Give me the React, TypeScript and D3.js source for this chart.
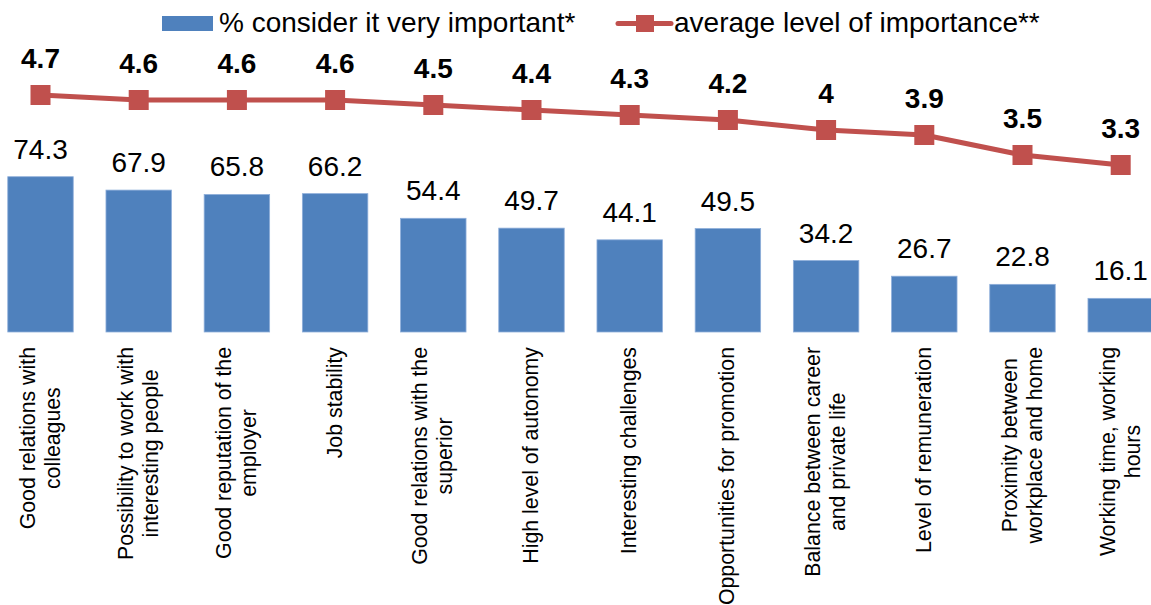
import React, { useMemo } from "react";
import * as d3 from "d3";

const categories: string[] = [
  "Good relations with\ncolleagues",
  "Possibility to work with\ninteresting people",
  "Good reputation of the\nemployer",
  "Job stability",
  "Good relations with the\nsuperior",
  "High level of autonomy",
  "Interesting challenges",
  "Opportunities for promotion",
  "Balance between career\nand private life",
  "Level of remuneration",
  "Proximity between\nworkplace and home",
  "Working time, working\nhours",
];
const pctVeryImportant: number[] = [74.3, 67.9, 65.8, 66.2, 54.4, 49.7, 44.1, 49.5, 34.2, 26.7, 22.8, 16.1];
const avgImportance: number[] = [4.7, 4.6, 4.6, 4.6, 4.5, 4.4, 4.3, 4.2, 4, 3.9, 3.5, 3.3];
const seriesNames: string[] = ["% consider it very important*", "average level of importance**"];

const W = 1151;
const H = 605;
const FONT = "'Liberation Sans', Arial, sans-serif";
const BAR = "#4F81BD";
const RED = "#C0504D";
const CAT_FS = 21.3;
const CAT_LH = 25;

export default function App() {
  const idx = categories.map((_, i) => String(i));
  const x = d3.scaleBand<string>().domain(idx).range([-8.6, 1169.8]).paddingInner(1 / 3).paddingOuter(1 / 6);
  const yBar = d3.scaleLinear().domain([0, 150]).range([332, 332 - 150 * 2.09]);
  const yLine = d3.scaleLinear().domain([0, 6]).range([330, 30]);
  const cx = (i: number) => (x(String(i)) as number) + x.bandwidth() / 2;

  const measure = useMemo(() => {
    const c = document.createElement("canvas").getContext("2d")!;
    c.font = `${CAT_FS}px 'Liberation Sans'`;
    return (s: string) => c.measureText(s).width;
  }, []);

  const line = d3
    .line<number>()
    .x((_, i) => cx(i))
    .y((d) => yLine(d));

  const ms = 20;

  return (
    <svg width={W} height={H} style={{ position: "fixed", left: 0, top: 0, background: "#fff" }} fontFamily={FONT}>
      <rect width={W} height={H} fill="#fff" />
      {/* legend */}
      <rect x={162} y={16} width={51} height={15} fill={BAR} />
      <text x={219} y={32} fontSize={28} fill="#000">{seriesNames[0]}</text>
      <line x1={618} x2={671} y1={23.5} y2={23.5} stroke={RED} strokeWidth={5} strokeLinecap="round" />
      <rect x={636} y={15} width={18} height={17} fill={RED} />
      <text x={674} y={32} fontSize={28} fill="#000">{seriesNames[1]}</text>

      {/* bars */}
      {pctVeryImportant.map((v, i) => (
        <g key={"b" + i}>
          <rect
            x={x(String(i))}
            y={yBar(v)}
            width={x.bandwidth()}
            height={yBar(0) - yBar(v)}
            fill={BAR}
            stroke="#8EAEDA"
            strokeWidth={0.8}
          />
          <text x={cx(i)} y={yBar(v) - 18} fontSize={28} textAnchor="middle" fill="#000">
            {v.toFixed(1)}
          </text>
        </g>
      ))}

      {/* line */}
      <path d={line(avgImportance) || ""} fill="none" stroke={RED} strokeWidth={5} strokeLinejoin="round" />
      {avgImportance.map((v, i) => (
        <g key={"m" + i}>
          <rect x={cx(i) - ms / 2} y={yLine(v) - ms / 2} width={ms} height={ms} fill={RED} />
          <text x={cx(i)} y={yLine(v) - 27} fontSize={28} fontWeight="bold" textAnchor="middle" fill="#000">
            {String(v)}
          </text>
        </g>
      ))}

      {/* category labels */}
      {categories.map((c, i) => {
        const lines = c.split("\n");
        const maxLen = d3.max(lines, (l) => measure(l)) || 0;
        const centerY = 347 + maxLen / 2;
        const n = lines.length;
        return (
          <g key={"c" + i}>
            {lines.map((l, j) => {
              const bx = cx(i) - (n * CAT_LH) / 2 + 19 + j * CAT_LH;
              return (
                <text
                  key={j}
                  transform={`translate(${bx},${centerY}) rotate(-90)`}
                  fontSize={CAT_FS}
                  textAnchor="middle"
                  fill="#000"
                >
                  {l}
                </text>
              );
            })}
          </g>
        );
      })}
    </svg>
  );
}
